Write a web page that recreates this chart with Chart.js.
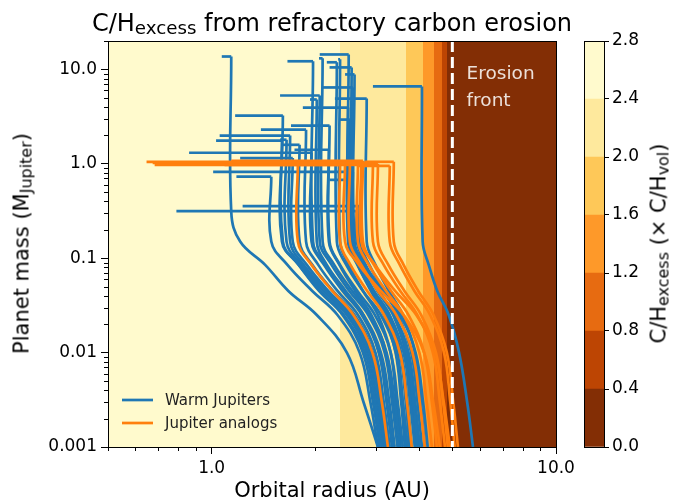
<!DOCTYPE html>
<html>
<head>
<meta charset="utf-8">
<script src="https://cdn.jsdelivr.net/npm/chart.js@4/dist/chart.umd.min.js"></script>
<style>
  html, body { margin: 0; padding: 0; background: #fff; }
  #wrap { position: relative; width: 673px; height: 501px; overflow: hidden;
          font-family: 'DejaVu Sans', sans-serif; color: #000; }
  #wrap canvas { position: absolute; top: 0; }
  #main { left: 0; }
  #cbar { left: 580px; }
  .lbl { position: absolute; white-space: nowrap; line-height: 1; text-align: center; }
  .lbl sub { font-size: 76%; vertical-align: baseline; position: relative; top: 0.16em; line-height: 0; }
  #title { font-size: 24px; left: 82px; width: 500px; top: 11px; }
  #xlabel { font-size: 21px; left: 132px; width: 400px; top: 480px; }
  #ylabel { font-size: 21px; left: -178px; width: 400px; top: 233px; transform: rotate(-90deg); }
  #clabel { font-size: 21px; left: 459px; width: 400px; top: 233px; transform: rotate(-90deg); }
</style>
</head>
<body>
<div id="wrap">
  <canvas id="main" width="580" height="501"></canvas>
  <canvas id="cbar" width="93" height="501"></canvas>
  <div class="lbl" id="title">C/H<sub>excess</sub> from refractory carbon erosion</div>
  <div class="lbl" id="xlabel">Orbital radius (AU)</div>
  <div class="lbl" id="ylabel">Planet mass (M<sub>Jupiter</sub>)</div>
  <div class="lbl" id="clabel">C/H<sub>excess</sub> (× C/H<sub>vol</sub>)</div>
</div>
<script>
// ---- axis ticks ----
const xMajorTicks = [1, 10];
const xTickLabels = ['1.0', '10.0'];
const xMinorTicks = [0.5, 0.6, 0.7, 0.8, 0.9, 2, 3, 4, 5, 6, 7, 8, 9];
const yMajorTicks = [0.001, 0.01, 0.1, 1, 10];
const yTickLabels = ['0.001', '0.01', '0.1', '1.0', '10.0'];
const yMinorTicks = [0.002, 0.003, 0.004, 0.005, 0.006, 0.007, 0.008, 0.009,
                     0.02, 0.03, 0.04, 0.05, 0.06, 0.07, 0.08, 0.09,
                     0.2, 0.3, 0.4, 0.5, 0.6, 0.7, 0.8, 0.9,
                     2, 3, 4, 5, 6, 7, 8, 9, 20];

// ---- C/H excess field: radial bands (AU) and their C/H excess value ----
const bandEdges = [0.5, 2.36, 3.66, 4.11, 4.42, 4.66, 4.82, 10];
const bandValues = [2.6, 2.2, 1.8, 1.4, 1.0, 0.6, 0.2];
const colorLevels = [0.0, 0.4, 0.8, 1.2, 1.6, 2.0, 2.4, 2.8];
const erosionFront = 5.0;

// ---- formation tracks: [orbital radius (AU), mass (M_Jupiter)] ----
// growth from the bottom up, then inward migration at final mass (last point)
const warmTracks = [
  [[3.04,0.001],[2.76,0.003],[2.47,0.01],[2.02,0.025],[1.67,0.045],[1.43,0.085],[1.21,0.15],[1.14,0.31],[1.14,13.7],[1.07,13.7]],
  [[3.40,0.001],[3.28,0.003],[3.10,0.01],[2.76,0.025],[2.42,0.045],[2.14,0.085],[1.97,0.15],[1.97,12.2],[1.66,12.2]],
  [[3.89,0.001],[3.77,0.003],[3.61,0.01],[3.29,0.025],[2.96,0.045],[2.67,0.085],[2.50,0.15],[2.50,14.4],[2.06,14.4]],
  [[3.52,0.001],[3.40,0.003],[3.22,0.01],[2.89,0.025],[2.56,0.045],[2.27,0.085],[2.10,0.15],[2.10,13.1],[2.05,13.1]],
  [[3.71,0.001],[3.59,0.003],[3.43,0.01],[3.10,0.025],[2.75,0.045],[2.46,0.085],[2.31,0.15],[2.31,11.9],[2.16,11.9]],
  [[5.74,0.001],[5.52,0.003],[5.23,0.01],[4.88,0.025],[4.52,0.045],[4.27,0.085],[4.10,0.15],[4.08,6.6],[2.94,6.6]],
  [[3.97,0.001],[3.85,0.003],[3.69,0.01],[3.37,0.025],[3.03,0.045],[2.75,0.085],[2.57,0.15],[2.57,6.44],[2.10,6.44]],
  [[3.47,0.001],[3.34,0.003],[3.18,0.01],[2.85,0.025],[2.51,0.045],[2.23,0.085],[2.06,0.15],[2.06,5.29],[1.58,5.29]],
  [[4.16,0.001],[4.05,0.003],[3.89,0.01],[3.59,0.025],[3.27,0.045],[2.99,0.085],[2.82,0.15],[2.82,4.91],[2.28,4.91]],
  [[3.81,0.001],[3.70,0.003],[3.55,0.01],[3.24,0.025],[2.92,0.045],[2.65,0.085],[2.49,0.15],[2.49,3.94],[1.84,3.94]],
  [[3.12,0.001],[2.98,0.003],[2.79,0.01],[2.42,0.025],[2.07,0.045],[1.79,0.085],[1.61,0.15],[1.61,3.24],[1.17,3.24]],
  [[3.59,0.001],[3.47,0.003],[3.31,0.01],[2.98,0.025],[2.65,0.045],[2.36,0.085],[2.20,0.15],[2.20,2.54],[1.70,2.54]],
  [[3.20,0.001],[3.06,0.003],[2.87,0.01],[2.51,0.025],[2.15,0.045],[1.85,0.085],[1.69,0.15],[1.69,1.99],[1.055,1.99]],
  [[3.08,0.001],[2.94,0.003],[2.75,0.01],[2.40,0.025],[2.05,0.045],[1.79,0.085],[1.60,0.15],[1.60,1.76],[1.03,1.76]],
  [[3.36,0.001],[3.23,0.003],[3.06,0.01],[2.73,0.025],[2.40,0.045],[2.12,0.085],[1.95,0.15],[1.95,1.31],[0.86,1.31]],
  [[4.02,0.001],[3.90,0.003],[3.73,0.01],[3.39,0.025],[3.04,0.045],[2.75,0.085],[2.57,0.15],[2.57,0.82],[1.01,0.82]],
  [[3.04,0.001],[2.89,0.003],[2.69,0.01],[2.32,0.025],[1.96,0.045],[1.66,0.085],[1.49,0.15],[1.49,0.73],[1.18,0.73]],
  [[4.08,0.001],[3.96,0.003],[3.80,0.01],[3.48,0.025],[3.16,0.045],[2.87,0.085],[2.69,0.15],[2.69,0.357],[1.23,0.357]],
  [[3.92,0.001],[3.81,0.003],[3.66,0.01],[3.37,0.025],[3.07,0.045],[2.80,0.085],[2.64,0.15],[2.64,0.316],[0.79,0.316]],
  [[3.76,0.001],[3.66,0.003],[3.52,0.01],[3.25,0.025],[2.95,0.045],[2.71,0.085],[2.55,0.15],[2.55,10.5],[2.20,10.5]],
  [[3.64,0.001],[3.55,0.003],[3.42,0.01],[3.16,0.025],[2.90,0.045],[2.66,0.085],[2.52,0.15],[2.52,2.94],[2.36,2.94]],
  [[3.25,0.001],[3.12,0.003],[2.94,0.01],[2.60,0.025],[2.25,0.045],[1.96,0.085],[1.80,0.15],[1.80,1.59],[1.60,1.59]],
  [[3.34,0.001],[3.22,0.003],[3.06,0.01],[2.76,0.025],[2.45,0.045],[2.16,0.085],[2.02,0.15],[2.02,4.80],[1.93,4.80]],
  [[3.16,0.001],[3.02,0.003],[2.83,0.01],[2.47,0.025],[2.11,0.045],[1.82,0.085],[1.65,0.15],[1.65,1.80],[1.58,1.80]],
  [[4.24,0.001],[4.11,0.003],[3.91,0.01],[3.53,0.025],[3.14,0.045],[2.79,0.085],[2.60,0.15],[2.60,8.85],[2.44,8.85]],
  [[3.47,0.001],[3.36,0.003],[3.21,0.01],[2.91,0.025],[2.61,0.045],[2.35,0.085],[2.19,0.15],[2.19,1.41],[1.74,1.41]],
  [[3.22,0.001],[3.09,0.003],[2.90,0.01],[2.54,0.025],[2.18,0.045],[1.89,0.085],[1.72,0.15],[1.72,1.15],[1.21,1.15]],
  [[3.69,0.001],[3.59,0.003],[3.46,0.01],[3.19,0.025],[2.92,0.045],[2.67,0.085],[2.52,0.15],[2.52,0.676],[2.20,0.676]],
  [[3.54,0.001],[3.44,0.003],[3.31,0.01],[3.04,0.025],[2.75,0.045],[2.50,0.085],[2.36,0.15],[2.36,12.8],[2.33,12.8]],
  [[3.29,0.001],[3.16,0.003],[2.99,0.01],[2.66,0.025],[2.32,0.045],[2.04,0.085],[1.88,0.15],[1.88,2.30],[1.39,2.30]]
];
const analogTracks = [
  [[3.25,0.001],[3.12,0.003],[2.93,0.01],[2.58,0.025],[2.24,0.045],[1.95,0.085],[1.78,0.15],[1.78,1.05],[0.647,1.05]],
  [[3.81,0.001],[3.69,0.003],[3.52,0.01],[3.17,0.025],[2.83,0.045],[2.53,0.085],[2.36,0.15],[2.36,0.976],[0.683,0.976]],
  [[4.36,0.001],[4.21,0.003],[4.01,0.01],[3.61,0.025],[3.21,0.045],[2.86,0.085],[2.66,0.15],[2.66,1.025],[0.674,1.025]],
  [[4.51,0.001],[4.36,0.003],[4.14,0.01],[3.73,0.025],[3.32,0.045],[2.96,0.085],[2.75,0.15],[2.75,1.076],[1.14,1.076]],
  [[4.76,0.001],[4.60,0.003],[4.39,0.01],[3.96,0.025],[3.53,0.045],[3.16,0.085],[2.94,0.15],[2.94,1.025],[1.58,1.025]],
  [[4.85,0.001],[4.70,0.003],[4.48,0.01],[4.06,0.025],[3.63,0.045],[3.26,0.085],[3.04,0.15],[3.04,1.0],[2.57,1.0]],
  [[5.08,0.001],[4.93,0.003],[4.73,0.01],[4.31,0.025],[3.88,0.045],[3.52,0.085],[3.29,0.15],[3.29,0.952],[2.66,0.952]],
  [[5.19,0.001],[5.03,0.003],[4.82,0.01],[4.41,0.025],[3.98,0.045],[3.61,0.085],[3.38,0.15],[3.38,1.05],[2.79,1.05]],
  [[4.16,0.001],[4.02,0.003],[3.83,0.01],[3.44,0.025],[3.04,0.045],[2.72,0.085],[2.52,0.15],[2.52,1.0],[1.80,1.0]],
  [[4.60,0.001],[4.40,0.003],[4.14,0.01],[3.61,0.025],[3.10,0.045],[2.68,0.085],[2.44,0.15],[2.44,1.025],[1.03,1.025]],
  [[4.92,0.001],[4.72,0.003],[4.45,0.01],[3.93,0.025],[3.41,0.045],[2.98,0.085],[2.72,0.15],[2.72,0.976],[1.09,0.976]]
];
const seriesNames = ['Warm Jupiters', 'Jupiter analogs'];

// ---- styling ----
const FONT = "'DejaVu Sans', sans-serif";
const WARM = '#1f77b4';
const ANALOG = '#ff7f0e';
const LINE_W = 2.7;
// reversed YlOrBr, one colour per 0.4-wide level (lowest first)
const levelColors = ['#832e05', '#bd4503', '#e76b11', '#fe9929', '#fec858', '#fee99d', '#fffacd'];
const colorForValue = v => {
  for (let i = 0; i < colorLevels.length - 1; i++) {
    if (v >= colorLevels[i] && v < colorLevels[i + 1]) return levelColors[i];
  }
  return levelColors[levelColors.length - 1];
};

const lineStyle = (color, order, tension) => ({
  showLine: true,
  borderColor: color,
  backgroundColor: color,
  borderWidth: LINE_W,
  borderJoinStyle: 'round',
  borderCapStyle: 'butt',
  pointRadius: 0,
  pointHoverRadius: 0,
  tension: tension,
  fill: false,
  order: order
});
const toPoints = pts => pts.map(([r, m]) => ({ x: r, y: m }));

// each track: smooth growth phase up to final mass, then a straight inward migration
const trackDatasets = (track, color, order) => {
  const n = track.length;
  return [
    Object.assign({ data: toPoints(track.slice(0, n - 1)) }, lineStyle(color, order, 0.4)),
    Object.assign({ data: toPoints(track.slice(n - 2)) }, lineStyle(color, order, 0))
  ];
};

const datasets = [
  ...analogTracks.flatMap(t => trackDatasets(t, ANALOG, 0)),
  ...warmTracks.flatMap(t => trackDatasets(t, WARM, 1))
];

// background field, erosion front, legend, frame and minor ticks
const decor = {
  id: 'decor',
  beforeDatasetsDraw(chart) {
    const { ctx, chartArea: a, scales: { x } } = chart;
    ctx.save();
    for (let i = 0; i < bandValues.length; i++) {
      const x0 = Math.round(x.getPixelForValue(bandEdges[i]));
      const x1 = Math.round(x.getPixelForValue(bandEdges[i + 1]));
      ctx.fillStyle = colorForValue(bandValues[i]);
      ctx.fillRect(x0, a.top, x1 - x0, a.bottom - a.top);
    }
    ctx.restore();
  },
  afterDatasetsDraw(chart) {
    const { ctx, chartArea: a, scales: { x, y } } = chart;
    ctx.save();
    // erosion front
    const xf = x.getPixelForValue(erosionFront);
    ctx.strokeStyle = '#ffffff';
    ctx.lineWidth = 3;
    ctx.setLineDash([11, 5]);
    ctx.beginPath();
    ctx.moveTo(xf, a.top);
    ctx.lineTo(xf, a.bottom);
    ctx.stroke();
    ctx.setLineDash([]);
    ctx.fillStyle = 'rgba(255,255,255,0.85)';
    ctx.font = '18.5px ' + FONT;
    ctx.textAlign = 'left';
    ctx.textBaseline = 'alphabetic';
    ctx.fillText('Erosion', x.getPixelForValue(5.5), y.getPixelForValue(7.85));
    ctx.fillText('front', x.getPixelForValue(5.5), y.getPixelForValue(4.1));
    // legend
    const rows = [[seriesNames[0], WARM, a.bottom - 47], [seriesNames[1], ANALOG, a.bottom - 24]];
    ctx.font = '15px ' + FONT;
    rows.forEach(([name, color, yy]) => {
      ctx.strokeStyle = color;
      ctx.lineWidth = LINE_W;
      ctx.beginPath();
      ctx.moveTo(a.left + 14, yy);
      ctx.lineTo(a.left + 45, yy);
      ctx.stroke();
      ctx.fillStyle = '#222';
      ctx.fillText(name, a.left + 57, yy + 5.3);
    });
    ctx.restore();
  },
  afterDraw(chart) {
    const { ctx, chartArea: a, scales: { x, y } } = chart;
    ctx.save();
    ctx.strokeStyle = '#000';
    ctx.lineWidth = 1;
    ctx.beginPath();
    xMinorTicks.forEach(v => {
      const px = Math.round(x.getPixelForValue(v)) + 0.5;
      ctx.moveTo(px, a.bottom);
      ctx.lineTo(px, a.bottom + 4);
    });
    yMinorTicks.forEach(v => {
      const py = Math.round(y.getPixelForValue(v)) + 0.5;
      ctx.moveTo(a.left - 4, py);
      ctx.lineTo(a.left, py);
    });
    ctx.stroke();
    ctx.strokeRect(Math.round(a.left) + 0.5, Math.round(a.top) + 0.5,
                   Math.round(a.right - a.left), Math.round(a.bottom - a.top));
    ctx.restore();
  }
};

new Chart(document.getElementById('main'), {
  type: 'scatter',
  data: { datasets },
  options: {
    responsive: false,
    animation: false,
    devicePixelRatio: 1,
    events: [],
    layout: { padding: { top: 41, right: 24, bottom: 0, left: 0 } },
    plugins: { legend: { display: false }, tooltip: { enabled: false } },
    scales: {
      x: {
        type: 'logarithmic',
        min: 0.5,
        max: 10,
        grid: { drawOnChartArea: false, tickLength: 7, color: '#000', lineWidth: 1 },
        border: { display: true, color: '#000' },
        ticks: {
          autoSkip: false, maxRotation: 0, padding: 4, color: '#000',
          font: { family: FONT, size: 17 },
          callback: (v, i) => xTickLabels[i]
        },
        afterBuildTicks: s => { s.ticks = xMajorTicks.map(v => ({ value: v })); },
        afterFit: s => { s.height = 54; }
      },
      y: {
        type: 'logarithmic',
        min: 0.001,
        max: 20,
        grid: { drawOnChartArea: false, tickLength: 7, color: '#000', lineWidth: 1 },
        border: { display: true, color: '#000' },
        ticks: {
          autoSkip: false, padding: 4, color: '#000',
          font: { family: FONT, size: 17 },
          callback: (v, i) => yTickLabels[i]
        },
        afterBuildTicks: s => { s.ticks = yMajorTicks.map(v => ({ value: v })); },
        afterFit: s => { s.width = 108; }
      }
    }
  },
  plugins: [decor]
});

// ---- colour bar ----
const cbarFrame = {
  id: 'cbarFrame',
  afterDraw(chart) {
    const { ctx, chartArea: a } = chart;
    ctx.save();
    ctx.strokeStyle = '#000';
    ctx.lineWidth = 1;
    ctx.strokeRect(Math.round(a.left) + 0.5, Math.round(a.top) + 0.5,
                   Math.round(a.right - a.left), Math.round(a.bottom - a.top));
    ctx.restore();
  }
};

new Chart(document.getElementById('cbar'), {
  type: 'bar',
  data: {
    labels: [''],
    datasets: levelColors.map((c, i) => ({
      data: [colorLevels[i + 1] - colorLevels[i]],
      backgroundColor: c,
      borderWidth: 0,
      barPercentage: 1,
      categoryPercentage: 1
    }))
  },
  options: {
    responsive: false,
    animation: false,
    devicePixelRatio: 1,
    events: [],
    layout: { padding: { top: 41, right: 0, bottom: 54, left: 4 } },
    plugins: { legend: { display: false }, tooltip: { enabled: false } },
    scales: {
      x: { stacked: true, display: false },
      y: {
        stacked: true,
        position: 'right',
        min: colorLevels[0],
        max: colorLevels[colorLevels.length - 1],
        grid: { drawOnChartArea: false, tickLength: 5, color: '#000', lineWidth: 1 },
        border: { display: true, color: '#000' },
        ticks: {
          autoSkip: false, padding: 3, color: '#000',
          font: { family: FONT, size: 17 },
          callback: (v, i) => colorLevels[i].toFixed(1)
        },
        afterBuildTicks: s => { s.ticks = colorLevels.map(v => ({ value: v })); },
        afterFit: s => { s.width = 69; }
      }
    }
  },
  plugins: [cbarFrame]
});
</script>
</body>
</html>
